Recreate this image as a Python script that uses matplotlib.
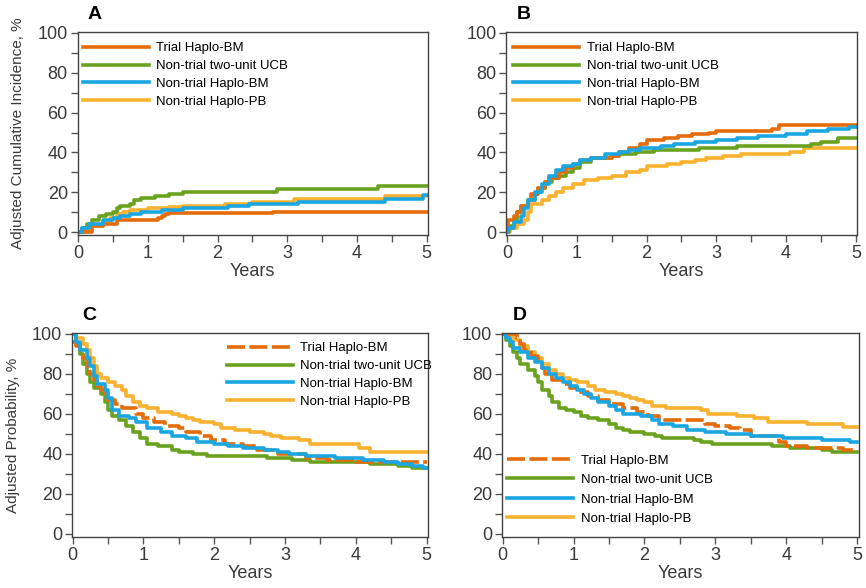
import matplotlib
matplotlib.use("Agg")
import matplotlib.pyplot as plt
from matplotlib.ticker import MultipleLocator

plt.rcParams['font.family'] = ['Liberation Sans', 'DejaVu Sans']

labels = ["Trial Haplo-BM", "Non-trial two-unit UCB", "Non-trial Haplo-BM", "Non-trial Haplo-PB"]
colors = ["#E46C0A", "#6AA220", "#1BA6E2", "#F9B130"]

# Panel A - adjusted cumulative incidence
a_trial_t = [0, 0.2, 0.35, 0.55, 1.15, 1.2, 1.25, 1.3, 2.8, 5.0]
a_trial_y = [0, 3, 4, 6, 7, 8, 9, 9.5, 10, 10]
a_ucb_t = [0, 0.05, 0.12, 0.2, 0.3, 0.4, 0.5, 0.55, 0.6, 0.75, 0.8, 0.9, 1.1, 1.3, 1.5, 2.85, 4.3, 5.0]
a_ucb_y = [0, 2, 4, 6, 8, 9, 10, 12, 13, 14, 16, 17, 18, 19, 20, 21.5, 23, 23]
a_hbm_t = [0, 0.05, 0.15, 0.35, 0.5, 0.6, 0.75, 0.9, 1.2, 1.5, 2.15, 2.45, 3.15, 4.4, 4.95, 5.0]
a_hbm_y = [0, 2, 4, 6, 7, 8, 9, 10, 11, 12, 13, 14, 15, 16.5, 18.5, 18.5]
a_hpb_t = [0, 0.1, 0.2, 0.35, 0.45, 0.55, 0.65, 0.75, 1.0, 1.3, 1.5, 2.1, 2.5, 3.1, 4.4, 5.0]
a_hpb_y = [0, 1, 3, 5, 7, 9, 10, 11, 12, 12.5, 13, 14, 15, 16.5, 18, 18]

# Panel B - adjusted cumulative incidence
b_trial_t = [0, 0.02, 0.1, 0.15, 0.2, 0.3, 0.35, 0.45, 0.55, 0.6, 0.75, 0.85, 0.95, 1.05, 1.2, 1.5,
             1.6, 1.75, 1.9, 2.0, 2.25, 2.45, 2.65, 2.9, 3.0, 3.8, 3.9, 5.0]
b_trial_y = [0, 6, 8, 10, 13, 16, 19, 22, 25, 27, 30, 32, 34, 36, 37, 38,
             40, 42, 44, 46, 47, 48, 49, 50, 51, 52, 54, 54]
b_ucb_t = [0, 0.03, 0.1, 0.15, 0.2, 0.3, 0.4, 0.45, 0.55, 0.65, 0.75, 0.85, 0.95, 1.05, 1.2, 1.5,
           1.6, 1.85, 2.1, 2.75, 3.3, 4.35, 4.5, 4.75, 5.0]
b_ucb_y = [0, 3, 6, 10, 13, 16, 19, 22, 25, 27, 28, 30, 32, 35, 37, 38,
           39, 40, 41, 42, 43, 44, 45, 47, 47]
b_hbm_t = [0, 0.02, 0.1, 0.2, 0.25, 0.3, 0.4, 0.5, 0.6, 0.7, 0.8, 0.95, 1.05, 1.2, 1.4, 1.6, 1.75,
           1.9, 2.2, 2.4, 2.7, 3.0, 3.3, 3.6, 4.0, 4.3, 4.6, 4.9, 5.0]
b_hbm_y = [0, 2, 5, 8, 12, 16, 20, 24, 28, 31, 33, 34, 36, 37, 39, 40, 41,
           42, 43, 44, 45, 46, 47, 48, 49, 51, 52, 53, 53]
b_hpb_t = [0, 0.05, 0.15, 0.25, 0.3, 0.35, 0.5, 0.6, 0.7, 0.8, 0.95, 1.1, 1.3, 1.5, 1.7, 1.9, 2.0,
           2.3, 2.5, 2.7, 2.85, 3.1, 3.35, 4.05, 4.25, 5.0]
b_hpb_y = [0, 2, 4, 6, 10, 14, 16, 18, 20, 22, 24, 26, 27, 28, 30, 31, 33,
           34, 35, 36, 37, 38, 39, 40, 42, 42]

# Panel C - adjusted probability
c_trial_t = [0, 0.05, 0.1, 0.15, 0.2, 0.25, 0.3, 0.35, 0.4, 0.45, 0.5, 0.6, 0.7, 0.9, 1.0, 1.15, 1.3,
             1.5, 1.6, 1.8, 1.95, 2.15, 2.4, 2.6, 2.9, 3.3, 3.6, 4.0, 5.0]
c_trial_y = [96, 94, 92, 88, 84, 80, 77, 74, 72, 70, 67, 65, 63, 60, 58, 56, 54,
             53, 51, 49, 47, 45, 44, 42, 40, 38, 37, 36, 36]
c_ucb_t = [0, 0.05, 0.1, 0.15, 0.2, 0.25, 0.3, 0.4, 0.45, 0.5, 0.55, 0.65, 0.75, 0.85, 0.95, 1.05,
           1.2, 1.4, 1.5, 1.7, 1.9, 2.75, 3.1, 3.35, 4.2, 4.6, 4.8, 5.0]
c_ucb_y = [100, 95, 90, 85, 80, 76, 73, 70, 66, 62, 59, 57, 54, 51, 48, 45,
           44, 42, 41, 40, 39, 38, 37, 36, 35, 34, 33, 33]
c_hbm_t = [0, 0.05, 0.1, 0.2, 0.25, 0.3, 0.35, 0.45, 0.5, 0.55, 0.65, 0.8, 0.9, 1.05, 1.25, 1.4, 1.6,
           1.75, 2.0, 2.2, 2.4, 2.7, 2.9, 3.05, 3.3, 3.7, 4.1, 4.4, 4.6, 4.8, 4.95, 5.0]
c_hbm_y = [100, 96, 92, 88, 84, 79, 75, 72, 68, 62, 59, 58, 56, 53, 51, 49, 48,
           46, 45, 44, 43, 42, 41, 40, 39, 38, 37, 36, 35, 34, 33, 33]
c_hpb_t = [0, 0.05, 0.15, 0.2, 0.25, 0.3, 0.35, 0.4, 0.5, 0.6, 0.7, 0.75, 0.85, 0.95, 1.05, 1.2, 1.4,
           1.5, 1.6, 1.7, 1.8, 2.0, 2.1, 2.3, 2.5, 2.7, 2.8, 2.95, 3.2, 3.35, 4.05, 4.2, 5.0]
c_hpb_y = [100, 98, 95, 92, 88, 84, 80, 78, 76, 74, 72, 69, 66, 64, 63, 61, 60,
           59, 58, 57, 56, 55, 53, 52, 51, 50, 49, 48, 47, 45, 43, 41, 41]

# Panel D - adjusted probability
d_trial_t = [0, 0.2, 0.25, 0.3, 0.4, 0.5, 0.55, 0.6, 0.7, 0.85, 0.95, 1.05, 1.2, 1.35, 1.5, 1.7, 1.9,
             2.05, 2.2, 2.85, 3.0, 3.2, 3.35, 3.5, 3.9, 4.0, 4.3, 4.8, 5.0]
d_trial_y = [100, 98, 95, 92, 89, 86, 83, 80, 77, 75, 73, 71, 69, 67, 65, 63, 61,
             59, 57, 55, 54, 53, 52, 49, 46, 44, 43, 42, 42]
d_ucb_t = [0, 0.05, 0.1, 0.15, 0.2, 0.25, 0.35, 0.45, 0.5, 0.55, 0.65, 0.7, 0.8, 0.9, 1.0, 1.1, 1.2,
           1.35, 1.5, 1.6, 1.7, 1.8, 2.0, 2.15, 2.25, 2.7, 2.8, 2.95, 3.8, 4.05, 4.5, 4.65, 5.0]
d_ucb_y = [100, 97, 94, 91, 88, 85, 82, 79, 76, 72, 69, 66, 63, 62, 61, 59, 58,
           57, 55, 53, 52, 51, 50, 49, 48, 47, 46, 45, 44, 43, 42, 41, 41]
d_hbm_t = [0, 0.05, 0.1, 0.15, 0.25, 0.35, 0.45, 0.55, 0.65, 0.75, 0.85, 0.95, 1.05, 1.15, 1.25, 1.35,
           1.5, 1.6, 1.7, 1.95, 2.1, 2.2, 2.4, 2.6, 2.85, 3.15, 3.5, 3.95, 4.5, 4.9, 5.0]
d_hbm_y = [100, 98, 96, 93, 91, 88, 86, 83, 80, 78, 76, 74, 72, 70, 68, 66,
           64, 62, 60, 59, 57, 55, 54, 52, 51, 50, 49, 48, 47, 46, 46]
d_hpb_t = [0, 0.1, 0.15, 0.25, 0.35, 0.45, 0.55, 0.65, 0.75, 0.85, 0.95, 1.05, 1.2, 1.3, 1.45, 1.6,
           1.7, 1.8, 1.9, 2.0, 2.1, 2.3, 2.8, 2.9, 3.3, 3.55, 3.75, 4.3, 4.8, 5.0]
d_hpb_y = [100, 99, 97, 94, 91, 88, 85, 82, 80, 78, 77, 76, 74, 72, 71, 70,
           69, 68, 67, 66, 64, 63, 62, 60, 59, 58, 56, 55, 53.5, 53.5]

W, H = 866, 588
fig = plt.figure(figsize=(W / 100, H / 100), dpi=100)


def box(left, top, right, bottom):
    # pixel box -> figure fraction
    return [left / W, 1 - bottom / H, (right - left) / W, (bottom - top) / H]


def setup(ax, letter):
    ax.set_xlim(-0.01, 5.02)
    ax.set_ylim(-1.5, 100.5)
    ax.xaxis.set_major_locator(MultipleLocator(1))
    ax.xaxis.set_minor_locator(MultipleLocator(0.5))
    ax.yaxis.set_major_locator(MultipleLocator(20))
    ax.yaxis.set_minor_locator(MultipleLocator(10))
    ax.tick_params(which='both', direction='out', length=5, width=1, color='#555555',
                   labelsize=13, labelcolor='#3a3a3a', pad=2)
    for s in ax.spines.values():
        s.set_color('#444444')
        s.set_linewidth(1)
    ax.set_xlabel("Years", fontsize=13, color='#3a3a3a', labelpad=1)
    ax.text(0.03, 1.045, letter, transform=ax.transAxes, fontsize=14, fontweight='bold',
            ha='left', va='bottom')


def draw(ax, series, dashed_trial, legend_kw, spacing=0.42):
    order = [3, 1, 0, 2]
    lines = {}
    for i in order:
        t, y = series[i]
        ln, = ax.step(t, y, color=colors[i], lw=2.6, where='post')
        if i == 0 and dashed_trial:
            ln.set_dashes((5, 1.2))
        lines[i] = ln
    handles = [lines[i] for i in range(4)]
    ax.legend(handles, labels, frameon=False, handlelength=5.0, fontsize=9.5,
              handletextpad=0.55, labelspacing=spacing, borderpad=0, borderaxespad=0,
              **legend_kw)


axA = fig.add_axes(box(77.5, 32, 428, 235))
axB = fig.add_axes(box(506.3, 32, 857.3, 235))
axC = fig.add_axes(box(72, 333, 428, 537))
axD = fig.add_axes(box(502, 333, 858.5, 537))

setup(axA, "A")
setup(axB, "B")
setup(axC, "C")
setup(axD, "D")

draw(axA, [(a_trial_t, a_trial_y), (a_ucb_t, a_ucb_y), (a_hbm_t, a_hbm_y), (a_hpb_t, a_hpb_y)],
     False, dict(loc='upper left', bbox_to_anchor=(0.015, 0.95)))
draw(axB, [(b_trial_t, b_trial_y), (b_ucb_t, b_ucb_y), (b_hbm_t, b_hbm_y), (b_hpb_t, b_hpb_y)],
     False, dict(loc='upper left', bbox_to_anchor=(0.02, 0.95)))
draw(axC, [(c_trial_t, c_trial_y), (c_ucb_t, c_ucb_y), (c_hbm_t, c_hbm_y), (c_hpb_t, c_hpb_y)],
     True, dict(loc='upper left', bbox_to_anchor=(0.435, 0.955)))
draw(axD, [(d_trial_t, d_trial_y), (d_ucb_t, d_ucb_y), (d_hbm_t, d_hbm_y), (d_hpb_t, d_hpb_y)],
     True, dict(loc='upper left', bbox_to_anchor=(0.015, 0.405)), spacing=0.55)

axA.set_ylabel("Adjusted Cumulative Incidence, %", fontsize=11, color='#3a3a3a', labelpad=9)
axC.set_ylabel("Adjusted Probability, %", fontsize=11, color='#3a3a3a', labelpad=9)

fig.savefig("out.png", dpi=100)
